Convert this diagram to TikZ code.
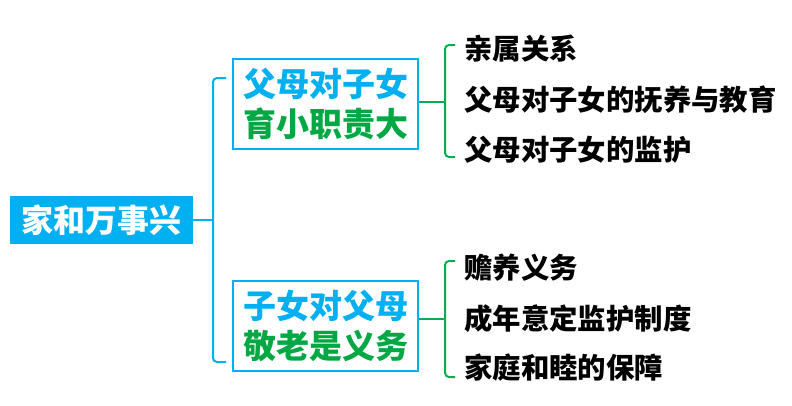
\documentclass[tikz,border=0pt]{standalone}
\usepackage{fontspec}
\setmainfont{Noto Sans CJK SC}[BoldFont={Noto Sans CJK SC Black}]
\definecolor{cy}{HTML}{00B0F0}
\definecolor{gr}{HTML}{00B050}
\definecolor{grt}{HTML}{00A844}
\begin{document}
\begin{tikzpicture}[x=1pt,y=-1pt,
  rootbox/.style={fill=cy,text=white,inner sep=0pt,minimum width=183pt,minimum height=48pt,font=\fontsize{32}{36}\selectfont\bfseries},
  midbox/.style={draw=cy,line width=2.5pt,inner sep=0pt,minimum width=185pt,minimum height=90pt,align=center,font=\fontsize{33}{40}\selectfont\bfseries},
  leaf/.style={anchor=west,inner sep=0pt,text=black,font=\fontsize{28.4}{32}\selectfont\bfseries},
  bl/.style={draw=cy,line width=2pt},
  gl/.style={draw=gr,line width=2pt}]
\useasboundingbox (0,0) rectangle (792,405);
\node[rootbox] (root) at (101.5,220) {家和万事兴};
\node[midbox] (m1) at (325.5,104) {\textcolor{cy}{父母对子女}\\\textcolor{grt}{育小职责大}};
\node[midbox] (m2) at (325.5,326) {\textcolor{cy}{子女对父母}\\\textcolor{grt}{敬老是义务}};
\node[leaf] (a1) at (464,49) {亲属关系};
\node[leaf] (a2) at (464,100) {父母对子女的抚养与教育};
\node[leaf] (a3) at (464,150) {父母对子女的监护};
\node[leaf] (b1) at (464,268) {赡养义务};
\node[leaf] (b2) at (464,319) {成年意定监护制度};
\node[leaf] (b3) at (464,368) {家庭和睦的保障};
% blue bracket
\coordinate (bs) at (213,220);
\coordinate (bt) at (226,78);
\coordinate (bb) at (226,362);
\draw[bl] (root.east) -- (bs);
\draw[bl,rounded corners=4pt] (bt) -- (213,78) -- (213,362) -- (bb);
% green bracket top
\coordinate (g1s) at (445,102);
\coordinate (g1t) at (455,45);
\coordinate (g1b) at (455,157);
\draw[gl] (m1.east |- g1s) -- (g1s);
\draw[gl,rounded corners=4pt] (g1t) -- (445,45) -- (445,157) -- (g1b);
% green bracket bottom
\coordinate (g2s) at (445,319);
\coordinate (g2t) at (455,261);
\coordinate (g2b) at (455,377);
\draw[gl] (m2.east |- g2s) -- (g2s);
\draw[gl,rounded corners=4pt] (g2t) -- (445,261) -- (445,377) -- (g2b);
\end{tikzpicture}
\end{document}
